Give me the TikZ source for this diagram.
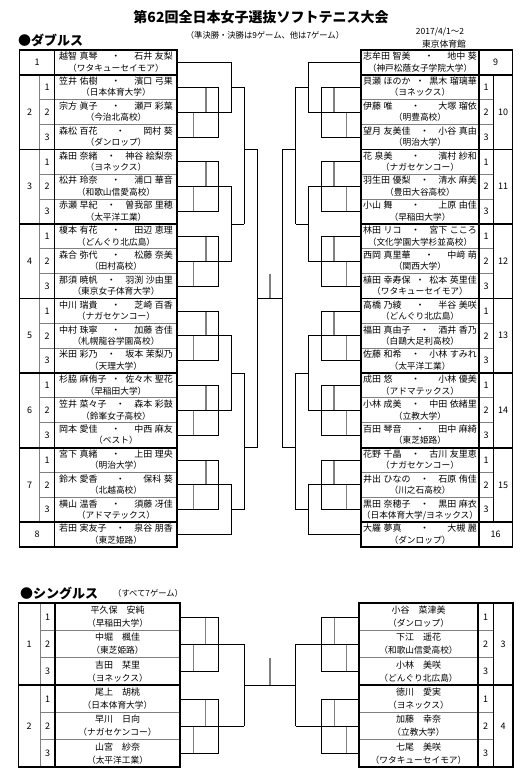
\documentclass[tikz,border=0pt]{standalone}
\usepackage{fontspec}
\setmainfont{Noto Sans CJK JP}
\usepackage{tikz}

\begin{document}
\begin{tikzpicture}[x=1pt, y=-1pt, font=\fontsize{9}{10}\selectfont,
  every node/.style={inner sep=0pt},
  frame/.style={line width=1.8pt},
  sep/.style={gray, line width=1pt},
  link/.style={line width=0.8pt},
  league/.style={gray, line width=1.3pt},
  txt/.style={font={\fontsize{9}{10}\selectfont\spaceskip=0.3em\relax}},
  club/.style={font=\fontsize{8.7}{10}\selectfont}]
\useasboundingbox (0,0) rectangle (532,780);
\def\rowh{24.85}
\def\srowh{27.33}

% headings
\node[font=\fontsize{14}{16}\selectfont\bfseries] (title) at (261,17) {第62回全日本女子選抜ソフトテニス大会};
\node[anchor=west, font=\fontsize{13}{15}\selectfont\bfseries] (dhead) at (18,40) {●ダブルス};
\node[font=\fontsize{8.3}{9}\selectfont] (drule) at (265,35) {（準決勝・決勝は9ゲーム、他は7ゲーム）};
\node[font=\fontsize{8.5}{9}\selectfont] (ddate) at (440,32) {2017/4/1～2};
\node[font=\fontsize{8.8}{9}\selectfont] (dplace) at (444,44) {東京体育館};
\node[anchor=west, font=\fontsize{13}{15}\selectfont\bfseries] (shead) at (20,593) {●シングルス};
\node[anchor=west, font=\fontsize{8.3}{9}\selectfont] (srule) at (113,593) {（すべて7ゲーム）};

% doubles tables
\foreach \k in {2,3,5,6,8,9,11,12,14,15,17,18} {
  \draw[sep] (39.5,50+\rowh*\k) -- (177,50+\rowh*\k);
  \draw[sep] (361,50+\rowh*\k) -- (493.5,50+\rowh*\k);
}
\draw[sep] (39.5,50+\rowh) -- (39.5,50+19*\rowh);
\draw[frame, line width=1.2pt] (493.5,50+\rowh) -- (493.5,50+19*\rowh);
\foreach \k in {1,4,7,10,13,16,19} {
  \draw[frame] (19.5,50+\rowh*\k) -- (177,50+\rowh*\k);
  \draw[frame] (361,50+\rowh*\k) -- (512.5,50+\rowh*\k);
}
\draw[frame] (54.5,50) -- (54.5,547);
\draw[frame] (479,50) -- (479,547);
\draw[frame] (19.5,50) rectangle (177,547);
\draw[frame] (361,50) rectangle (512.5,547);

\foreach \k/\fst/\snd/\team in {
  0/越智 真琴/石井 友梨/ワタキューセイモア,
  1/笠井 佑樹/濱口 弓果/日本体育大学,
  2/宗方 眞子/瀬戸 彩葉/今治北高校,
  3/森松 百花/岡村 葵/ダンロップ,
  4/森田 奈緒/神谷 絵梨奈/ヨネックス,
  5/松井 玲奈/浦口 華音/和歌山信愛高校,
  6/赤瀬 早紀/曽我部 里穂/太平洋工業,
  7/榎本 有花/田辺 恵理/どんぐり北広島,
  8/森合 弥代/松藤 奈美/田村高校,
  9/那須 暁帆/羽渕 沙由里/東京女子体育大学,
  10/中川 瑞貴/芝崎 百香/ナガセケンコー,
  11/中村 珠寧/加藤 杏佳/札幌龍谷学園高校,
  12/米田 彩乃/坂本 茉梨乃/天理大学,
  13/杉脇 麻侑子/佐々木 聖花/早稲田大学,
  14/笠井 菜々子/森本 彩鼓/鈴峯女子高校,
  15/岡本 愛佳/中西 麻友/ベスト,
  16/宮下 真緒/上田 理央/明治大学,
  17/鈴木 愛香/保科 葵/北越高校,
  18/横山 温香/須藤 冴佳/アドマテックス,
  19/若田 実友子/泉谷 朋香/東芝姫路} {
  \node[txt] (dl\k) at (116,50+\rowh*\k+6.3) {\hbox to 114pt{\fst\hfill・\hfill\snd}};
  \node[club] (dlt\k) at (116,50+\rowh*\k+17.8) {（\team）};
}
\foreach \k/\fst/\snd/\team in {
  0/志牟田 智美/地中 葵/神戸松蔭女子学院大学,
  1/貝瀬 ほのか/黒木 瑠璃華/ヨネックス,
  2/伊藤 唯/大塚 瑠依/明豊高校,
  3/望月 友美佳/小谷 真由/明治大学,
  4/花 泉美/濱村 紗和/ナガセケンコー,
  5/羽生田 優梨/清水 麻美/豊田大谷高校,
  6/小山 舞/上原 由佳/早稲田大学,
  7/林田 リコ/宮下 こころ/文化学園大学杉並高校,
  8/西岡 真里華/中﨑 萌/関西大学,
  9/植田 幸寿保/松本 英里佳/ワタキューセイモア,
  10/高橋 乃綾/半谷 美咲/どんぐり北広島,
  11/福田 真由子/酒井 香乃/白鷗大足利高校,
  12/佐藤 和希/小林 すみれ/太平洋工業,
  13/成田 悠/小林 優美/アドマテックス,
  14/小林 成美/中田 依緒里/立教大学,
  15/百田 琴音/田中 麻綺/東芝姫路,
  16/花野 千晶/古川 友里恵/ナガセケンコー,
  17/井出 ひなの/石原 侑佳/川之石高校,
  18/黒田 奈穂子/黒田 麻衣/日本体育大学\slash ヨネックス,
  19/大羅 夢真/大槻 麗/ダンロップ} {
  \node[txt] (dr\k) at (420,50+\rowh*\k+6.3) {\hbox to 114pt{\fst\hfill・\hfill\snd}};
  \node[club] (drt\k) at (420,50+\rowh*\k+17.8) {（\team）};
}

\node (dlseed1) at (37,50+\rowh*0.5) {1};
\node (dlseed8) at (37,50+\rowh*19.5) {8};
\node (drseed9) at (495.7,50+\rowh*0.5) {9};
\node (drseed16) at (495.7,50+\rowh*19.5) {16};
\foreach \k in {1,...,18} {
  \pgfmathtruncatemacro\sub{mod(\k-1,3)+1}
  \node (dlsub\k) at (47,50+\rowh*\k+\rowh/2) {\sub};
  \node (drsub\k) at (486.2,50+\rowh*\k+\rowh/2) {\sub};
}
\foreach \g in {2,...,7} {
  \pgfmathtruncatemacro\h{\g+8}
  \node (dlgrp\g) at (29.5,50+\rowh*3*\g-\rowh*3.5) {\g};
  \node (drgrp\h) at (503,50+\rowh*3*\g-\rowh*3.5) {\h};
}

% doubles brackets
\foreach \r in {1,4,7,10,13,16} {
  \pgfmathsetmacro\ya{50+\rowh*(\r+0.5)}
  \pgfmathsetmacro\yb{\ya+\rowh}
  \pgfmathsetmacro\yc{\ya+2*\rowh}
  \draw[league] (206,\ya) -- (206,\yb);
  \draw[league] (193.3,\yb) -- (193.3,\yc);
  \draw[link] (177,\ya) -| (218.3,\yc) -- (177,\yc);
  \draw[league] (334,\ya) -- (334,\yb);
  \draw[league] (346.7,\yb) -- (346.7,\yc);
  \draw[link] (361,\ya) -| (321.7,\yc) -- (361,\yc);
}
\foreach \p/\q in {0/2,5/8,11/14,17/19} {
  \pgfmathsetmacro\yp{50+\rowh*(\p+0.5)}
  \pgfmathsetmacro\yq{50+\rowh*(\q+0.5)}
  \pgfmathsetmacro\ym{(\yp+\yq)/2}
  \draw[link] (177,\yp) -| (231.7,\yq) -- (177,\yq);
  \draw[link] (231.7,\ym) -- (244.3,\ym);
  \draw[link] (361,\yp) -| (308.3,\yq) -- (361,\yq);
  \draw[link] (308.3,\ym) -- (295.7,\ym);
}
\draw[link] (244.3,50+1.5*\rowh) -- (244.3,50+7*\rowh);
\draw[link] (244.3,50+13*\rowh) -- (244.3,50+18.5*\rowh);
\draw[link] (244.3,50+4*\rowh) -| (257.3,50+16*\rowh) -- (244.3,50+16*\rowh);
\draw[link] (295.7,50+1.5*\rowh) -- (295.7,50+7*\rowh);
\draw[link] (295.7,50+13*\rowh) -- (295.7,50+18.5*\rowh);
\draw[link] (295.7,50+4*\rowh) -| (282.7,50+16*\rowh) -- (295.7,50+16*\rowh);
\draw[league] (270,50+9*\rowh) -- (270,50+10*\rowh);
\draw[link] (257.3,50+10*\rowh) -- (282.7,50+10*\rowh);

% singles tables
\foreach \k in {1,2,4,5} {
  \draw[sep] (40,603.3+\srowh*\k) -- (180,603.3+\srowh*\k);
  \draw[sep] (359.3,603.3+\srowh*\k) -- (493.3,603.3+\srowh*\k);
}
\draw[sep] (40,603.3) -- (40,767.3);
\draw[frame] (18.5,603.3+3*\srowh) -- (180,603.3+3*\srowh);
\draw[frame] (359.3,603.3+3*\srowh) -- (513,603.3+3*\srowh);
\draw[frame] (55,603.3) -- (55,767.3);
\draw[frame] (477.7,603.3) -- (477.7,767.3);
\draw[frame, line width=1.2pt] (493.3,603.3) -- (493.3,767.3);
\draw[frame] (18.5,603.3) rectangle (180,767.3);
\draw[frame] (359.3,603.3) rectangle (513,767.3);

\foreach \k/\fst/\team in {0/平久保　安純/早稲田大学, 1/中堀　楓佳/東芝姫路, 2/吉田　栞里/ヨネックス,
  3/尾上　胡桃/日本体育大学, 4/早川　日向/ナガセケンコー, 5/山宮　紗奈/太平洋工業} {
  \pgfmathtruncatemacro\sub{mod(\k,3)+1}
  \node[txt] (sl\k) at (117.5,603.3+\srowh*\k+6.9) {\fst};
  \node[club] (slt\k) at (117.5,603.3+\srowh*\k+20) {（\team）};
  \node (slsub\k) at (47.5,603.3+\srowh*\k+\srowh/2) {\sub};
}
\foreach \k/\fst/\team in {0/小谷　菜津美/ダンロップ, 1/下江　遥花/和歌山信愛高校, 2/小林　美咲/どんぐり北広島,
  3/徳川　愛実/ヨネックス, 4/加藤　幸奈/立教大学, 5/七尾　美咲/ワタキューセイモア} {
  \pgfmathtruncatemacro\sub{mod(\k,3)+1}
  \node[txt] (sr\k) at (418.5,603.3+\srowh*\k+6.9) {\fst};
  \node[club] (srt\k) at (418.5,603.3+\srowh*\k+20) {（\team）};
  \node (srsub\k) at (485.5,603.3+\srowh*\k+\srowh/2) {\sub};
}
\node (slgrp1) at (29.2,603.3+1.5*\srowh) {1};
\node (slgrp2) at (29.2,603.3+4.5*\srowh) {2};
\node (srgrp3) at (503.2,603.3+1.5*\srowh) {3};
\node (srgrp4) at (503.2,603.3+4.5*\srowh) {4};

% singles brackets
\foreach \a in {0,3} {
  \pgfmathsetmacro\ya{603.3+\srowh*(\a+0.5)}
  \pgfmathsetmacro\yb{\ya+\srowh}
  \pgfmathsetmacro\yc{\ya+2*\srowh}
  \draw[league] (205.7,\ya) -- (205.7,\yb);
  \draw[league] (193.3,\yb) -- (193.3,\yc);
  \draw[link] (180,\ya) -| (218.3,\yc) -- (180,\yc);
  \draw[link] (180,\yb) -- (244.3,\yb);
  \draw[league] (334.3,\ya) -- (334.3,\yb);
  \draw[league] (346.7,\yb) -- (346.7,\yc);
  \draw[link] (359.3,\ya) -| (321.7,\yc) -- (359.3,\yc);
  \draw[link] (359.3,\yb) -- (295.7,\yb);
}
\draw[link] (244.3,603.3+1.5*\srowh) -- (244.3,603.3+4.5*\srowh);
\draw[link] (295.7,603.3+1.5*\srowh) -- (295.7,603.3+4.5*\srowh);
\draw[league] (270,603.3+2*\srowh) -- (270,603.3+3*\srowh);
\draw[link] (244.3,603.3+3*\srowh) -- (295.7,603.3+3*\srowh);
\end{tikzpicture}
\end{document}
